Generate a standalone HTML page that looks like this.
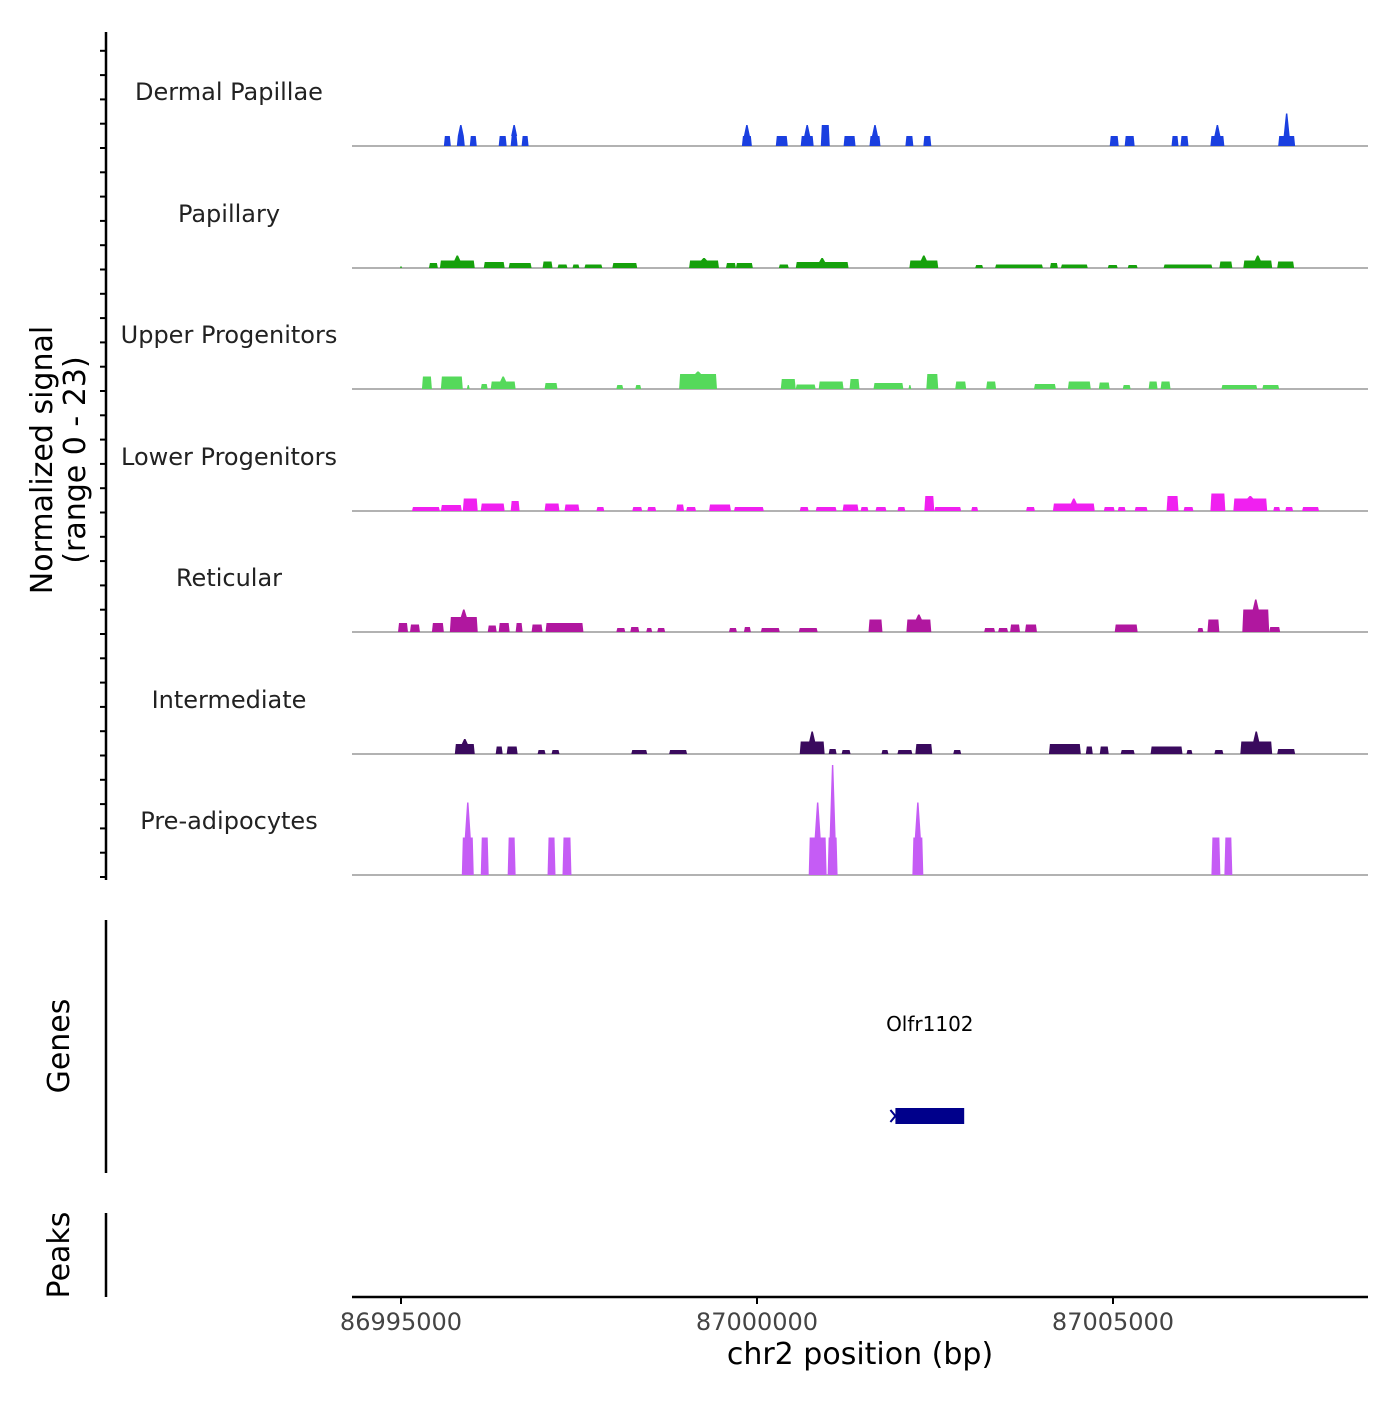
<!DOCTYPE html>
<html><head><meta charset="utf-8"><style>
body{margin:0;background:#fff;}
svg text{font-family:"DejaVu Sans","Liberation Sans",sans-serif;}
</style></head><body>
<svg id="chart" width="1400" height="1400" xmlns="http://www.w3.org/2000/svg">
<g id="axes"></g><g id="tracks"></g>
</svg>
<script>
const regionStart = 86995000;
const xTicks = [86995000, 87000000, 87005000];
const trackNames = ["Dermal Papillae","Papillary","Upper Progenitors","Lower Progenitors","Reticular","Intermediate","Pre-adipocytes"];
const trackColors = ["#1a3fe0","#16a00c","#55d95b","#f020f0","#b0179f","#3a0a5e","#c55cf5"];
// [startOffsetBp, endOffsetBp, value, peakValue]
const dermal = [[602,700,2],[784,896,2,4.2],[966,1064,2],[1372,1484,2],[1540,1638,2,4.2],[1694,1792,2],[4788,4928,2,4.2],[5264,5432,2],[5614,5796,2,4.2],[5896,6022,4.2],[6216,6384,2],[6580,6734,2,4.2],[7084,7196,2],[7336,7448,2],[9954,10080,2],[10164,10304,2],[10822,10920,2],[10948,11060,2],[11368,11564,2,4.2],[12320,12558,2,6.5]];
const papillary = [[-14,14,0.5],[392,518,1],[546,1036,1.5,2.5],[1162,1456,1.2],[1512,1834,1],[1988,2128,1.3],[2198,2338,0.7],[2408,2506,0.7],[2576,2828,0.7],[2968,3318,1],[4046,4466,1.5,2],[4564,4704,1],[4704,4942,1],[5306,5446,0.7],[5544,6286,1.2,2],[7140,7546,1.5,2.5],[8064,8176,0.6],[8344,9016,0.7],[9114,9226,1],[9268,9646,0.7],[9926,10066,0.6],[10206,10346,0.6],[10710,11396,0.7],[11494,11676,1.3],[11830,12236,1.5,2.5],[12306,12544,1.3]];
const upper = [[294,434,2.5],[560,868,2.5],[924,966,0.8],[1120,1218,1],[1260,1610,1.5,2.5],[2016,2198,1.2],[3024,3122,0.8],[3290,3374,0.8],[3906,4438,3,3.5],[5334,5544,2],[5544,5824,0.9],[5866,6216,1.5],[6300,6440,2],[6636,7056,1.2],[7126,7168,0.8],[7378,7546,3],[7784,7938,1.5],[8218,8358,1.5],[8890,9198,1],[9366,9688,1.5],[9800,9954,1.3],[10136,10248,0.8],[10500,10626,1.5],[10668,10808,1.5],[11522,12026,0.8],[12096,12334,0.8]];
const lower = [[154,546,0.8],[560,854,1.2],[868,1078,2.5],[1120,1456,1.5],[1540,1666,2],[2016,2226,1.5],[2296,2506,1.3],[2744,2856,0.8],[3248,3388,0.8],[3458,3584,0.8],[3864,3976,1.3],[4004,4144,0.8],[4326,4634,1.3],[4676,5096,0.8],[5600,5726,0.8],[5824,6118,0.8],[6202,6426,1.3],[6454,6566,0.8],[6664,6818,0.8],[6972,7084,0.8],[7350,7490,3],[7490,7868,0.8],[8008,8106,0.8],[8778,8904,0.8],[9156,9744,1.5,2.5],[9870,10024,0.8],[10066,10178,0.8],[10304,10486,0.8],[10752,10920,3],[10990,11130,0.8],[11368,11578,3.5],[11690,12166,2.5,3],[12250,12348,0.8],[12418,12530,0.8],[12656,12894,0.8]];
const reticular = [[-42,98,1.8],[126,266,1.5],[434,602,1.8],[686,1078,3,4.5],[1218,1344,1.3],[1372,1526,1.8],[1610,1708,1.8],[1834,1988,1.5],[2030,2562,1.8],[3024,3150,0.8],[3220,3346,1],[3444,3528,0.8],[3598,3710,0.8],[4606,4718,0.8],[4816,4914,1],[5054,5320,0.8],[5586,5852,0.8],[6566,6762,2.5],[7098,7448,2.5,3.5],[8190,8344,0.8],[8386,8526,0.8],[8554,8694,1.5],[8764,8932,1.5],[10024,10346,1.5],[11186,11270,0.8],[11326,11494,2.5],[11816,12194,4.5,6.5],[12194,12348,1]];
const intermediate = [[756,1036,2,3],[1330,1428,1.5],[1484,1638,1.5],[1918,2030,0.8],[2114,2226,0.8],[3234,3458,0.8],[3766,4018,0.8],[5600,5950,2.5,4.5],[6006,6118,1],[6188,6314,0.8],[6748,6846,0.8],[6972,7182,0.8],[7224,7462,2],[7756,7868,0.8],[9100,9548,2],[9618,9716,1.5],[9814,9940,1.5],[10108,10304,0.8],[10528,10976,1.5],[11032,11116,0.8],[11424,11550,0.8],[11788,12236,2.5,4.5],[12306,12558,1]];
const preadipo = [[854,1022,7.5,14.5],[1120,1232,7.5],[1498,1610,7.5],[2058,2170,7.5],[2268,2394,7.5],[5726,5978,7.5,14.5],[5992,6132,7.5,22],[7182,7336,7.5,14.5],[11382,11508,7.5],[11564,11676,7.5]];
const trackData = [dermal,papillary,upper,lower,reticular,intermediate,preadipo];
const geneName = "Olfr1102";
const geneStart = 87001944, geneEnd = 87002910;

const NS="http://www.w3.org/2000/svg";
const X0=352,X1=1368;
function xs(bp){return 401+(bp-86995000)*0.0712;}
const baselines=[146,268,389,511,632,754,875];
function ys(v,t){return baselines[t]-v*5;}
function mk(tag,attrs,parent){const e=document.createElementNS(NS,tag);for(const k in attrs)e.setAttribute(k,attrs[k]);parent.appendChild(e);return e;}
const axes=document.getElementById('axes'), tracks=document.getElementById('tracks');

let a=mk('line',{x1:106,y1:32,x2:106,y2:880,stroke:'#000','stroke-width':2.5},axes);


for(let y=877;y>=32;y-=24.3){let t=mk('line',{x1:100,y1:y,x2:106,y2:y,stroke:'#000','stroke-width':2},axes);

}
let yt=mk('text',{x:0,y:0,'font-size':30,'text-anchor':'middle',transform:'translate(52,460) rotate(-90)',fill:'#000'},axes);


yt.innerHTML='<tspan x="0" dy="0">Normalized signal</tspan><tspan x="0" dy="33">(range 0 - 23)</tspan>';

trackData.forEach((segs,t)=>{
  const g=mk('g',{},tracks);
  
  
  let lb=mk('text',{x:229,y:baselines[t]-46,'font-size':24,'text-anchor':'middle',fill:'#222'},g);
  lb.textContent=trackNames[t];
  
  
  let bl=mk('line',{x1:X0,y1:baselines[t],x2:X1,y2:baselines[t],stroke:'#666','stroke-width':1},g);
  
  
  segs.forEach(s=>{
    const xa=xs(regionStart+s[0]), xb=xs(regionStart+s[1]), b=baselines[t], yh=ys(s[2],t);
    let pts=[[xa,b],[xa+1,yh]];
    if(s.length>3){const xm=(xa+xb)/2, yp=ys(s[3],t);pts.push([xm-3,yh],[xm-0.7,yp],[xm+0.7,yp],[xm+3,yh]);}
    pts.push([xb-1,yh],[xb,b]);
    let p=mk('polygon',{points:pts.map(q=>q.join(',')).join(' '),fill:trackColors[t]},g);
    
    
  });
});

let ga=mk('line',{x1:106,y1:920,x2:106,y2:1173,stroke:'#000','stroke-width':2.5},axes);


let gt=mk('text',{x:0,y:0,'font-size':30,'text-anchor':'middle',transform:'translate(69,1046) rotate(-90)'},axes);
gt.textContent='Genes';


let gb=mk('rect',{x:xs(geneStart),y:1108,width:xs(geneEnd)-xs(geneStart),height:16,fill:'#00008b'},tracks);


let gc=mk('path',{d:`M${xs(geneStart)-5},1110 L${xs(geneStart)},1116 L${xs(geneStart)-5},1122`,stroke:'#00008b','stroke-width':2,fill:'none'},tracks);


let gl=mk('text',{x:(xs(geneStart)+xs(geneEnd))/2,y:1031,'font-size':20,'text-anchor':'middle'},tracks);
gl.textContent=geneName;



let pa=mk('line',{x1:106,y1:1213,x2:106,y2:1297,stroke:'#000','stroke-width':2.5},axes);


let pt=mk('text',{x:0,y:0,'font-size':30,'text-anchor':'middle',transform:'translate(69,1255) rotate(-90)'},axes);
pt.textContent='Peaks';



let xa=mk('line',{x1:X0,y1:1297,x2:X1,y2:1297,stroke:'#000','stroke-width':2.5},axes);


xTicks.forEach(v=>{
  let tk=mk('line',{x1:xs(v),y1:1297,x2:xs(v),y2:1304,stroke:'#000','stroke-width':2},axes);
  
  
  let tl=mk('text',{x:xs(v),y:1330,'font-size':24,'text-anchor':'middle',fill:'#444'},axes);
  tl.textContent=v;
  
  
});
let xt=mk('text',{x:860,y:1364,'font-size':30,'text-anchor':'middle'},axes);
xt.textContent='chr2 position (bp)';


</script>
</body></html>
